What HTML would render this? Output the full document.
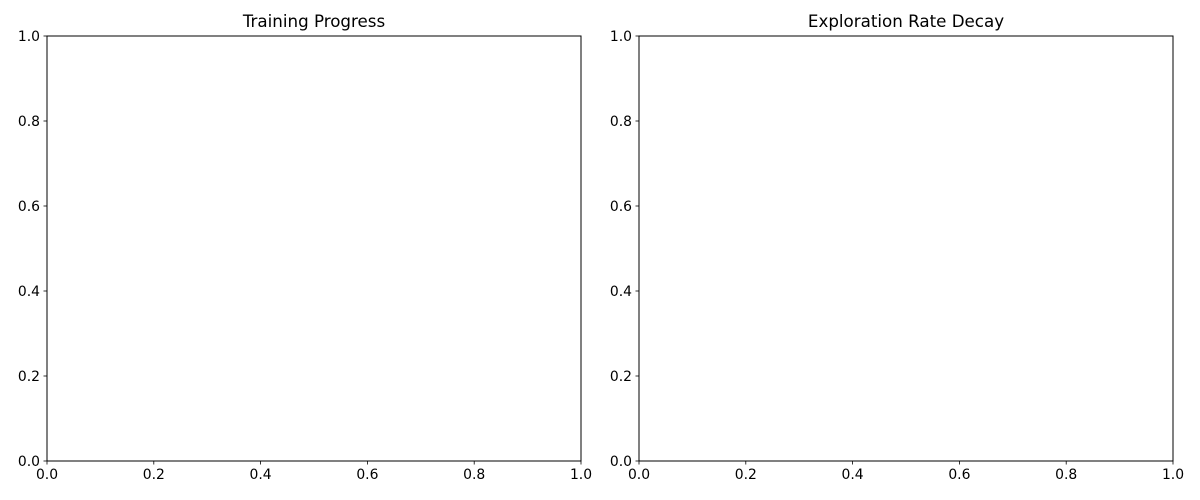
<!DOCTYPE html>
<html><head><meta charset="utf-8"><style>
html,body{margin:0;padding:0;background:#fff;}
svg{display:block;font-family:"DejaVu Sans","Liberation Sans",sans-serif;}
</style></head><body>
<svg id="chart" width="1200" height="500" viewBox="0 0 1200 500">
<rect width="1200" height="500" fill="#fff"/>
</svg>
<script>
const xTickValues = [0.0, 0.2, 0.4, 0.6, 0.8, 1.0];
const yTickValues = [0.0, 0.2, 0.4, 0.6, 0.8, 1.0];
const panelTitles = ["Training Progress", "Exploration Rate Decay"];
const panelNames = ["training-progress-panel", "exploration-rate-panel"];

const svg = document.getElementById('chart');
const NS = 'http://www.w3.org/2000/svg';
const panels = [{x0:47,x1:581},{x0:639,x1:1173}];
const yTop = 36, yBot = 461;
function mk(tag, attrs, parent){const e=document.createElementNS(NS,tag);for(const k in attrs)e.setAttribute(k,attrs[k]);parent.appendChild(e);return e;}

panels.forEach((p,i)=>{
  const g = mk('g',{},svg);
  
  
  const sx = v => p.x0 + v*(p.x1-p.x0);
  const sy = v => yBot - v*(yBot-yTop);
  const frame = mk('rect',{x:p.x0,y:yTop,width:p.x1-p.x0,height:yBot-yTop,fill:'none',stroke:'#000','stroke-width':1},g);
  
  
  const t = mk('text',{x:(p.x0+p.x1)/2,y:yTop-9,'text-anchor':'middle','font-size':16.7,fill:'#000'},g);
  t.textContent = panelTitles[i];
  
  
  xTickValues.forEach(v=>{
    const x = sx(v);
    mk('line',{x1:x,x2:x,y1:yBot,y2:yBot+3.5,stroke:'#000','stroke-width':0.8},g);
    const l = mk('text',{x:x,y:yBot+18,'text-anchor':'middle','font-size':13.9,fill:'#000'},g);
    l.textContent = v.toFixed(1);
    
    
  });
  yTickValues.forEach(v=>{
    const y = sy(v);
    mk('line',{x1:p.x0-3.5,x2:p.x0,y1:y,y2:y,stroke:'#000','stroke-width':0.8},g);
    const l = mk('text',{x:p.x0-7,y:y+5,'text-anchor':'end','font-size':13.9,fill:'#000'},g);
    l.textContent = v.toFixed(1);
    
    
  });
});
</script>
</body></html>
